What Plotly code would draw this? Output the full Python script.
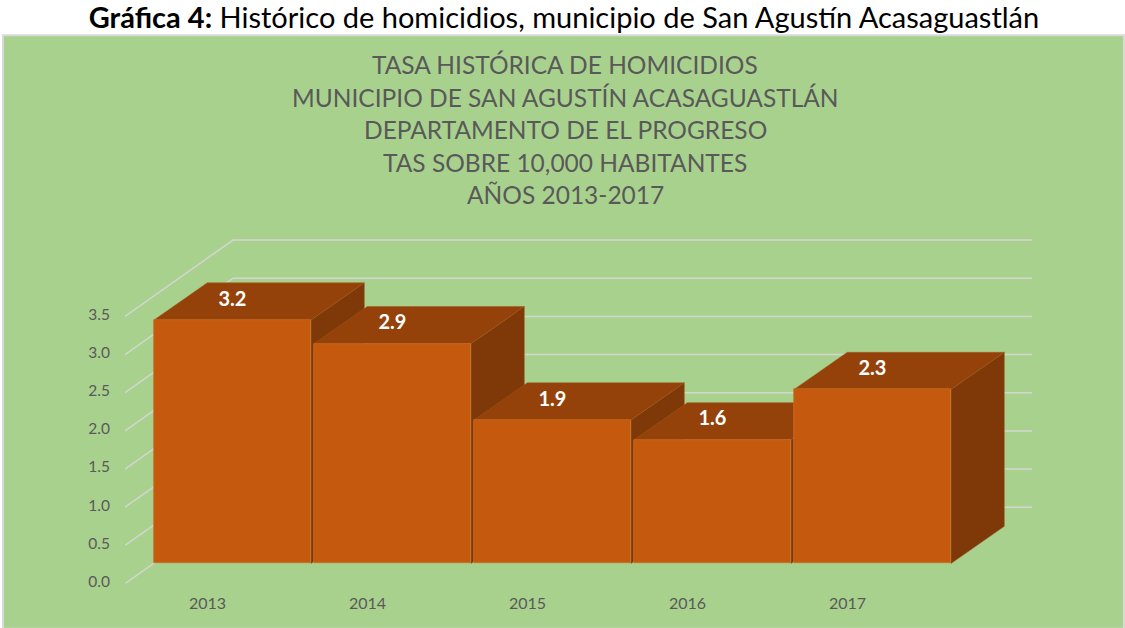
import plotly.graph_objects as go

years = [2013, 2014, 2015, 2016, 2017]
values = [3.2, 2.9, 1.9, 1.6, 2.3]
bar_heights = [3.19, 2.88, 1.88, 1.62, 2.28]
y_ticks = [0.0, 0.5, 1.0, 1.5, 2.0, 2.5, 3.0, 3.5]
main_title = "<b>Gráfica 4:</b> Histórico de homicidios, municipio de San Agustín Acasaguastlán"
chart_title = [
    "TASA HISTÓRICA DE HOMICIDIOS",
    "MUNICIPIO DE SAN AGUSTÍN ACASAGUASTLÁN",
    "DEPARTAMENTO DE EL PROGRESO",
    "TAS SOBRE 10,000 HABITANTES",
    "AÑOS 2013-2017",
]

W, H = 1125, 637
FY = 1.014   # vertical correction
FONT = "Lato"
TEXT = "#595959"
GRID = "#D3D6CF"
FRONT = "#C55A0F"
TOP = "#94420A"
SIDE = "#7F3808"
PANEL = "#A9D18E"

PX_X = 160.0   # pixels per year
PX_Y = 76.0    # pixels per unit (axis units keep this ratio; pixel targets are scaled by FY)
x0_px, y0_px = 232.5, 561.0 * FY   # 2013 bar centre / front baseline
left_px, right_px, bottom_px, top_px = 125.0, 1032.0, 581.0 * FY, 236.0 * FY
half = 78.5 / PX_X
DX, DY = 53.3 / PX_X, 37.0 / PX_Y     # bar depth
WX0, WY0 = 108.0 / PX_X, 76.0 / PX_Y  # front-most to back wall

xmin = years[0] + (left_px - x0_px) / PX_X
xmax = years[0] + (right_px - x0_px) / PX_X
ymin = (y0_px - bottom_px) / (PX_Y * FY)
ymax = (y0_px - top_px) / (PX_Y * FY)

fig = go.Figure()

# Panel
fig.add_shape(type="rect", xref="paper", yref="paper",
              x0=3 / W, x1=1124 / W, y0=1 - 626 * FY / H, y1=1 - 35 * FY / H,
              fillcolor=PANEL, line=dict(color="#D9D9D9", width=2), layer="below")

# Wall gridlines (diagonal + back wall)
for t in y_ticks:
    xs = [xmin, xmin + WX0, xmax]
    yb = t + ymin + WY0
    yf = t + ymin
    path = f"M {xs[0]} {yf} L {xs[1]} {yb} L {xs[2]} {yb}"
    fig.add_shape(type="path", path=path, xref="x", yref="y",
                  line=dict(color=GRID, width=1.5), layer="below")

# Bar side and top faces
for yr, h in zip(years, bar_heights):
    l, r = yr - half, yr + half
    side = f"M {r} 0 L {r + DX} {DY} L {r + DX} {h + DY} L {r} {h} Z"
    top = f"M {l} {h} L {l + DX} {h + DY} L {r + DX} {h + DY} L {r} {h} Z"
    fig.add_shape(type="path", path=side, xref="x", yref="y", fillcolor=SIDE,
                  line=dict(color="#8F5A20", width=0.5), layer="below")
    fig.add_shape(type="path", path=top, xref="x", yref="y", fillcolor=TOP,
                  line=dict(color="#A0581A", width=0.5), layer="below")

# Front faces
fig.add_trace(go.Bar(x=years, y=bar_heights, width=2 * half,
                     marker=dict(color=FRONT, line=dict(color="#C8702A", width=0.7)),
                     showlegend=False, hoverinfo="skip"))

# Value labels, on the top faces
fig.add_trace(go.Scatter(
    x=years,
    y=[h + DY * 0.52 for h in bar_heights],
    mode="text",
    text=[f"{v:.1f}" for v in values],
    textposition="middle center",
    textfont=dict(family=FONT, size=20, color="white", weight="bold"),
    showlegend=False, hoverinfo="skip"))

# Chart title lines
for line, yc in zip(chart_title, [64, 97, 129, 162, 194]):
    fig.add_annotation(text=line, xref="paper", yref="paper",
                       x=565 / W, y=1 - yc * FY / H, xanchor="center", yanchor="middle",
                       showarrow=False, font=dict(family=FONT, size=24.5, color=TEXT))

fig.update_layout(
    width=W, height=H,
    margin=dict(l=0, r=0, t=0, b=0),
    paper_bgcolor="white",
    plot_bgcolor="rgba(0,0,0,0)",
    bargap=0,
    showlegend=False,
    title=dict(text=main_title, x=564 / W, y=1 - 17.5 * FY / H, xanchor="center", yanchor="middle",
               font=dict(family=FONT, size=29, color="black")),
    xaxis=dict(domain=[left_px / W, right_px / W], range=[xmin, xmax], tickmode="array",
               tickvals=years, ticktext=[str(y) for y in years], showgrid=False,
               showline=False, zeroline=False, ticks="", ticklabelshift=-25,
               ticklabelstandoff=8, tickfont=dict(family=FONT, size=16, color=TEXT)),
    yaxis=dict(domain=[1 - bottom_px / H, 1 - top_px / H], range=[ymin, ymax], tickmode="array",
               tickvals=y_ticks, ticktext=[f"{t:.1f}" for t in y_ticks], showgrid=False,
               showline=False, zeroline=False, ticks="", ticklabelshift=18,
               ticklabelstandoff=14, tickfont=dict(family=FONT, size=15.5, color=TEXT)),
)

fig.write_html(
    "out.html", config={"displayModeBar": False},
    post_script="document.body.style.margin='0';",
)
